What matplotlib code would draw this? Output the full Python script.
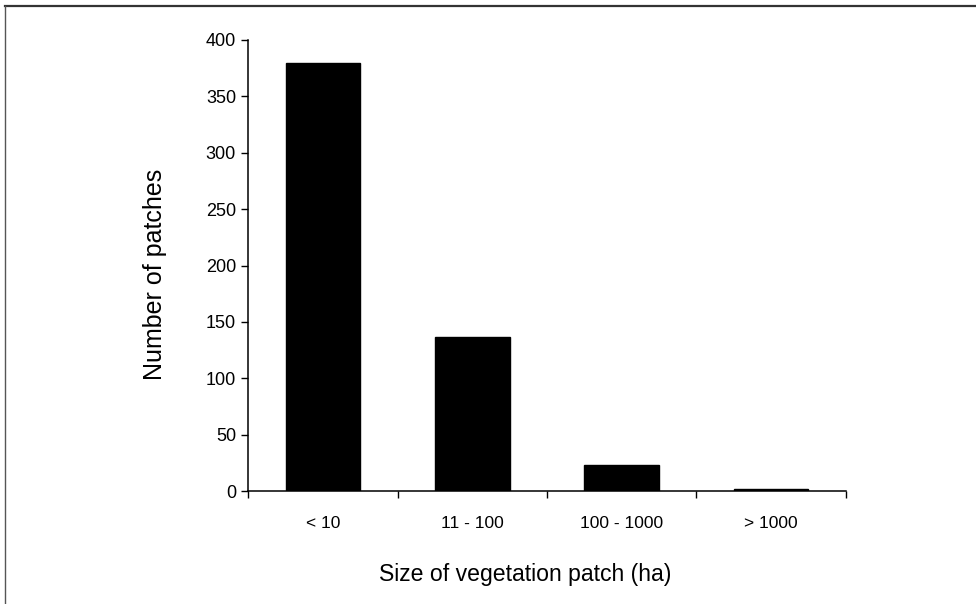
import matplotlib
matplotlib.use("Agg")
import matplotlib.pyplot as plt
from matplotlib.lines import Line2D
import numpy as np

plt.rcParams["font.family"] = ["Liberation Sans", "DejaVu Sans"]

# data
categories = ["< 10", "11 - 100", "100 - 1000", "> 1000"]
patch_counts = [380, 137, 23, 2]
y_ticks = [0, 50, 100, 150, 200, 250, 300, 350, 400]

fig = plt.figure(figsize=(9.76, 6.04), dpi=100, facecolor="white")
ax = fig.add_axes([0.2546, 0.187, 0.612, 0.7468])

x = np.arange(len(categories))
ax.bar(x, patch_counts, width=0.5, color="black", edgecolor="black")

ax.set_xlim(-0.5, len(categories) - 0.5)
ax.set_ylim(0, 400)
ax.set_yticks(y_ticks)

# category labels centred under bars, tick marks on the boundaries
ax.set_xticks(x)
ax.set_xticklabels(categories, fontsize=12.5)
ax.tick_params(axis="x", which="major", length=0, pad=18)
ax.set_xticks(np.arange(-0.5, len(categories)), minor=True)
ax.tick_params(axis="x", which="minor", length=5, width=1, direction="out")
ax.tick_params(axis="y", length=5, width=1, direction="out", labelsize=13, pad=4)

for side in ("top", "right"):
    ax.spines[side].set_visible(False)
for side in ("left", "bottom"):
    ax.spines[side].set_linewidth(1.1)

ax.set_xlabel("Size of vegetation patch (ha)", fontsize=16.6)
ax.xaxis.set_label_coords(0.463, -0.16, transform=ax.transAxes)
ax.xaxis.label.set_va("top")
ax.set_ylabel("Number of patches", fontsize=18, labelpad=28)
ax.yaxis.label.set_y(0.48)

# scanned frame (top and left edges only)
fig.add_artist(Line2D([5 / 976, 1], [1 - 6 / 604, 1 - 6 / 604],
                      transform=fig.transFigure, color="#333333", lw=1.6))
fig.add_artist(Line2D([5 / 976, 5 / 976], [0, 1 - 6 / 604],
                      transform=fig.transFigure, color="#555555", lw=1.0))

fig.savefig("out.png", dpi=100, facecolor="white")
plt.close(fig)
